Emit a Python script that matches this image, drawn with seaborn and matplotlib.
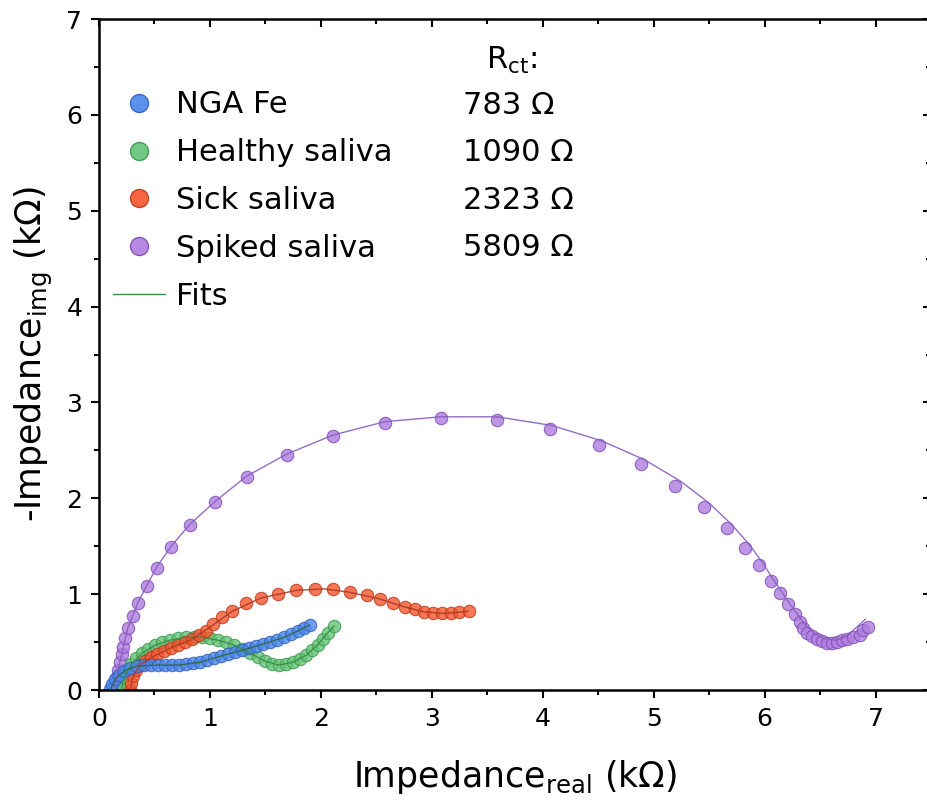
import matplotlib
matplotlib.use("Agg")
import matplotlib.pyplot as plt
from matplotlib.lines import Line2D
from matplotlib.ticker import MultipleLocator
import seaborn as sns
import pandas as pd

# ---------------- data (kOhm) ----------------
series_names = ["NGA Fe", "Healthy saliva", "Sick saliva", "Spiked saliva"]
rct_values = ["783 Ω", "1090 Ω", "2323 Ω", "5809 Ω"]

nga_x = [0.10, 0.117, 0.144, 0.18, 0.225, 0.28, 0.342, 0.405, 0.468, 0.53, 0.595, 0.658,
         0.72, 0.784, 0.847, 0.91, 0.973, 1.036, 1.10, 1.162, 1.225, 1.288, 1.351, 1.414,
         1.477, 1.54, 1.604, 1.667, 1.73, 1.793, 1.847, 1.90]
nga_y = [0.01, 0.06, 0.115, 0.16, 0.20, 0.23, 0.25, 0.26, 0.26, 0.26, 0.26, 0.26,
         0.26, 0.27, 0.28, 0.29, 0.31, 0.33, 0.355, 0.375, 0.395, 0.415, 0.44, 0.46,
         0.48, 0.50, 0.52, 0.55, 0.585, 0.615, 0.645, 0.68]

healthy_x = [0.198, 0.207, 0.225, 0.252, 0.288, 0.333, 0.387, 0.441, 0.505, 0.568, 0.64,
             0.712, 0.784, 0.856, 0.928, 1.0, 1.072, 1.144, 1.216, 1.288, 1.36, 1.432,
             1.495, 1.559, 1.622, 1.685, 1.748, 1.811, 1.865, 1.919, 1.973, 2.018, 2.063, 2.117]
healthy_y = [0.0, 0.06, 0.135, 0.21, 0.27, 0.33, 0.385, 0.43, 0.47, 0.50, 0.52,
             0.54, 0.55, 0.55, 0.55, 0.54, 0.52, 0.50, 0.47, 0.43, 0.385, 0.345,
             0.30, 0.27, 0.26, 0.27, 0.29, 0.32, 0.365, 0.415, 0.47, 0.53, 0.595, 0.667]

sick_x = [0.279, 0.288, 0.306, 0.333, 0.369, 0.414, 0.468, 0.523, 0.586, 0.649, 0.712,
          0.775, 0.838, 0.901, 0.964, 1.027, 1.108, 1.198, 1.324, 1.459, 1.613, 1.775,
          1.946, 2.108, 2.261, 2.414, 2.532, 2.649, 2.757, 2.847, 2.928, 3.009, 3.09,
          3.171, 3.243, 3.333]
sick_y = [0.00, 0.07, 0.15, 0.21, 0.26, 0.30, 0.34, 0.375, 0.406, 0.44, 0.47,
          0.50, 0.53, 0.57, 0.615, 0.69, 0.76, 0.82, 0.906, 0.958, 1.00, 1.04,
          1.052, 1.052, 1.02, 0.99, 0.948, 0.906, 0.865, 0.844, 0.813, 0.802, 0.802,
          0.802, 0.813, 0.823]

spiked_x = [0.153, 0.162, 0.171, 0.189, 0.207, 0.216, 0.234, 0.261, 0.306, 0.351, 0.432,
            0.523, 0.649, 0.820, 1.045, 1.333, 1.694, 2.108, 2.577, 3.081, 3.586, 4.063,
            4.505, 4.883, 5.189, 5.450, 5.658, 5.820, 5.946, 6.054, 6.135, 6.207, 6.270,
            6.315, 6.342, 6.378, 6.423, 6.468, 6.514, 6.559, 6.604, 6.649, 6.694, 6.739,
            6.793, 6.856, 6.883, 6.928]
spiked_y = [0.04, 0.135, 0.208, 0.292, 0.375, 0.448, 0.542, 0.646, 0.771, 0.906, 1.083,
            1.271, 1.490, 1.719, 1.958, 2.219, 2.448, 2.646, 2.781, 2.833, 2.813, 2.719,
            2.552, 2.354, 2.125, 1.906, 1.688, 1.479, 1.302, 1.135, 1.010, 0.896, 0.792,
            0.708, 0.646, 0.594, 0.563, 0.531, 0.510, 0.490, 0.490, 0.500, 0.521, 0.531,
            0.552, 0.573, 0.625, 0.656]

# fitted curves
fit_nga_x = [0.10, 0.15, 0.23, 0.34, 0.50, 0.72, 0.91, 1.10, 1.29, 1.48, 1.67, 1.80, 1.90]
fit_nga_y = [0.0, 0.12, 0.20, 0.25, 0.26, 0.26, 0.29, 0.355, 0.415, 0.48, 0.55, 0.62, 0.68]
fit_healthy_x = [0.20, 0.23, 0.29, 0.39, 0.51, 0.64, 0.78, 0.93, 1.07, 1.22, 1.36, 1.50,
                 1.62, 1.75, 1.87, 1.97, 2.06, 2.12]
fit_healthy_y = [0.0, 0.14, 0.27, 0.385, 0.47, 0.52, 0.55, 0.55, 0.52, 0.47, 0.385, 0.30,
                 0.26, 0.29, 0.365, 0.47, 0.595, 0.667]
fit_sick_x = [0.28, 0.31, 0.37, 0.47, 0.65, 0.84, 1.03, 1.20, 1.46, 1.78, 2.03, 2.26,
              2.53, 2.76, 2.93, 3.09, 3.24, 3.33]
fit_sick_y = [0.0, 0.15, 0.26, 0.34, 0.44, 0.53, 0.68, 0.82, 0.96, 1.04, 1.055, 1.02,
              0.95, 0.865, 0.815, 0.80, 0.81, 0.823]
fit_spiked_x = [0.14, 0.17, 0.21, 0.26, 0.35, 0.43, 0.52, 0.65, 0.82, 1.05, 1.33, 1.69,
                2.11, 2.58, 3.08, 3.59, 4.08, 4.53, 4.92, 5.24, 5.50, 5.70, 5.86, 5.98,
                6.08, 6.18, 6.27, 6.36, 6.45, 6.55, 6.65, 6.75, 6.91]
fit_spiked_y = [0.0, 0.2, 0.4, 0.65, 0.91, 1.09, 1.28, 1.50, 1.73, 1.97, 2.23, 2.46,
                2.66, 2.80, 2.85, 2.85, 2.76, 2.60, 2.40, 2.18, 1.95, 1.73, 1.52, 1.33,
                1.15, 0.98, 0.83, 0.69, 0.59, 0.53, 0.52, 0.57, 0.74]

x_ticks = [0, 1, 2, 3, 4, 5, 6, 7]
y_ticks = [0, 1, 2, 3, 4, 5, 6, 7]

fill_colors = {"NGA Fe": "#4a86ea", "Healthy saliva": "#62c476",
               "Sick saliva": "#f5552c", "Spiked saliva": "#b07ce0"}
edge_colors = {"NGA Fe": "#2f5fb8", "Healthy saliva": "#3d9650",
               "Sick saliva": "#b8381a", "Spiked saliva": "#7a4cb0"}
fit_colors = {"NGA Fe": "#2e6a3a", "Healthy saliva": "#3a8a48",
              "Sick saliva": "#a83a26", "Spiked saliva": "#8a5cc0"}

pts = pd.concat([
    pd.DataFrame({"x": spiked_x, "y": spiked_y, "s": "Spiked saliva"}),
    pd.DataFrame({"x": healthy_x, "y": healthy_y, "s": "Healthy saliva"}),
    pd.DataFrame({"x": sick_x, "y": sick_y, "s": "Sick saliva"}),
    pd.DataFrame({"x": nga_x, "y": nga_y, "s": "NGA Fe"}),
])
fits = {
    "Spiked saliva": (fit_spiked_x, fit_spiked_y),
    "Healthy saliva": (fit_healthy_x, fit_healthy_y),
    "Sick saliva": (fit_sick_x, fit_sick_y),
    "NGA Fe": (fit_nga_x, fit_nga_y),
}

# ---------------- style ----------------
sns.set_theme(style="ticks")
plt.rcParams["font.family"] = ["DejaVu Sans"]
plt.rcParams["mathtext.default"] = "regular"
plt.rcParams["text.color"] = "black"
plt.rcParams["axes.labelcolor"] = "black"
plt.rcParams["xtick.color"] = "black"
plt.rcParams["ytick.color"] = "black"

fig = plt.figure(figsize=(9.27, 8.11), dpi=100)
ax = fig.add_axes([99 / 927, 121 / 811, 832 / 927, 671 / 811])

for name in ["Spiked saliva", "Healthy saliva", "Sick saliva", "NGA Fe"]:
    sub = pts[pts["s"] == name]
    sns.scatterplot(data=sub, x="x", y="y", ax=ax, s=80, color=fill_colors[name],
                    edgecolor=edge_colors[name], linewidth=0.8, alpha=0.8,
                    legend=False, zorder=2)
for name in ["Spiked saliva", "Healthy saliva", "Sick saliva", "NGA Fe"]:
    fx, fy = fits[name]
    sns.lineplot(x=fx, y=fy, ax=ax, sort=False, color=fit_colors[name], lw=1.0,
                 alpha=0.9, estimator=None, legend=False, zorder=3)

ax.set_xlim(0, 7.5)
ax.set_ylim(0, 7)
ax.set_xticks(x_ticks)
ax.set_yticks(y_ticks)
ax.xaxis.set_minor_locator(MultipleLocator(0.5))
ax.yaxis.set_minor_locator(MultipleLocator(0.5))
for sp in ax.spines.values():
    sp.set_visible(True)
    sp.set_linewidth(1.8)
    sp.set_color("black")
ax.tick_params(axis="both", which="major", direction="out", length=6, width=1.5,
               labelsize=18, pad=6, colors="black")
ax.tick_params(axis="both", which="minor", direction="out", length=3.5, width=1.5)
ax.tick_params(top=True, right=True, which="both")
for t in ax.xaxis.get_major_ticks() + ax.xaxis.get_minor_ticks():
    t.tick2line.set_marker(3)  # inward from top
for t in ax.yaxis.get_major_ticks() + ax.yaxis.get_minor_ticks():
    t.tick2line.set_marker(0)  # inward from right

ax.set_xlabel("Impedance$_{real}$ (kΩ)", fontsize=25, labelpad=20)
ax.set_ylabel("-Impedance$_{img}$ (kΩ)", fontsize=25, labelpad=8)

handles = [Line2D([0], [0], ls="none", marker="o", markersize=13,
                  markerfacecolor=fill_colors[n], markeredgecolor=edge_colors[n],
                  markeredgewidth=1.0, alpha=0.9) for n in series_names]
handles.append(Line2D([0], [0], color="#3a8a48", lw=1.0))
leg = ax.legend(handles, series_names + ["Fits"], loc="upper left",
                bbox_to_anchor=(0.002, 0.912), frameon=False, fontsize=22,
                handlelength=1.7, handletextpad=0.35, labelspacing=0.62,
                borderaxespad=0.0)

ax.text(3.72, 6.57, "R$_{ct}$:", fontsize=22, ha="center", va="center")
for i, v in enumerate(rct_values):
    ax.text(3.28, 6.10 - 0.495 * i, v, fontsize=22, ha="left", va="center")

fig.savefig("out.png", dpi=100)
